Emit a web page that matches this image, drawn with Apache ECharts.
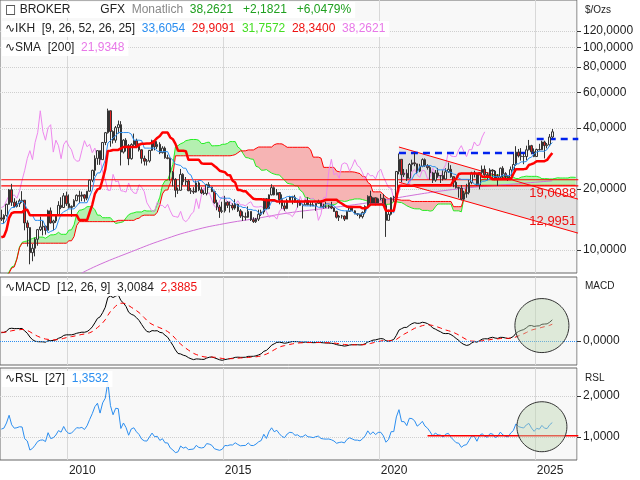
<!DOCTYPE html>
<html><head><meta charset="utf-8">
<script src="https://cdn.jsdelivr.net/npm/echarts@6/dist/echarts.min.js"></script>
<style>html,body{margin:0;padding:0;background:#fff}#c{width:640px;height:480px}</style>
</head><body><div id="c"></div>
<script>
// Monthly silver warm-up history Jan 2005 .. Oct 2007 (indicator calculation only, not drawn)
const preCloses = [6.8,7.4,7.1,6.9,7.4,7.0,7.2,6.8,7.5,7.6,8.3,8.8,
9.6,9.6,11.5,13.6,12.2,10.8,11.3,12.7,11.6,12.4,13.9,12.9,
13.3,14.2,13.3,13.5,13.2,12.4,12.9,12.1,13.8,14.4];
const preHighs = [7.3,7.5,7.5,7.4,7.5,7.5,7.3,7.3,7.6,7.8,8.4,9.0,
9.9,10.1,11.6,14.1,15.2,12.6,11.9,13.0,12.6,12.6,14.2,14.1,
13.8,14.6,14.4,14.2,14.1,13.6,13.4,13.0,14.0,14.6];
const preLows = [6.4,6.5,6.9,6.8,6.9,6.9,6.9,6.8,6.8,7.3,7.5,8.2,
8.8,9.2,9.5,11.4,11.3,9.5,10.3,11.2,10.9,11.2,12.3,12.5,
12.3,13.3,12.6,13.3,12.9,12.4,12.5,11.2,12.0,13.5];
// Monthly silver, Nov 2007 .. Jul 2025 (drawn)
const startYear = 2007, startMonth = 11;
const closes = [14.2,14.8,
16.8,19.8,17.2,16.4,16.9,17.5,17.6,13.6,12.9,9.7,10.2,11.3,
12.6,13.0,13.1,12.5,15.6,13.6,13.9,14.9,16.6,16.2,18.5,16.9,
16.2,16.4,17.5,18.6,18.4,18.7,18.0,19.5,22.1,24.7,28.3,30.9,
27.9,33.9,37.9,48.6,38.4,34.8,40.1,41.5,30.4,34.8,32.7,28.2,
33.1,34.6,32.5,31.2,28.3,27.4,27.5,31.0,34.6,32.3,33.2,30.2,
31.8,28.5,28.3,24.2,22.3,19.7,19.7,23.6,21.7,21.9,19.6,19.5,
19.3,21.4,19.8,19.1,19.0,21.0,20.4,19.4,17.1,16.3,15.5,15.6,
17.2,16.6,16.6,16.1,16.8,15.6,14.7,14.6,14.5,15.5,14.1,13.8,
14.2,15.0,15.4,17.9,16.0,18.7,20.3,18.7,19.2,17.7,16.5,16.0,
17.5,18.3,18.2,17.2,17.4,16.6,16.7,17.5,16.7,16.7,16.5,17.0,
17.3,16.4,16.3,16.3,16.4,16.1,15.5,14.5,14.7,14.7,14.2,15.5,
16.1,15.6,15.1,15.0,14.6,15.3,16.4,18.4,17.0,18.1,17.0,17.9,
18.0,16.6,14.0,15.0,18.1,18.2,24.4,28.0,23.5,23.9,22.6,26.4,
26.9,26.6,24.5,25.9,27.9,26.1,25.5,24.0,22.1,24.0,23.2,23.3,
22.4,24.3,25.0,23.0,21.6,20.3,20.2,17.8,19.0,19.2,21.5,24.0,
23.7,20.9,24.1,25.0,23.5,22.8,24.8,24.5,22.4,22.9,25.3,23.8,
23.0,22.7,24.9,26.4,30.4,29.1,28.9,28.9,31.2,32.7,30.5,28.9,
31.3,31.2,34.1,32.7,33.0,36.08,38.26];
const highs = [15.8,15.0,
16.9,20.0,21.2,18.0,17.5,17.9,19.5,17.6,14.0,12.9,10.7,11.5,
12.7,14.6,13.9,13.2,15.8,16.2,14.1,15.0,17.4,18.2,19.1,19.4,
18.8,16.6,17.8,18.8,19.6,19.4,18.8,19.5,22.2,24.9,29.3,31.0,
30.9,34.1,38.2,49.8,48.5,38.9,40.9,43.5,43.2,35.2,35.6,33.3,
33.6,37.5,35.4,33.5,31.4,29.2,28.1,31.1,35.0,34.8,34.4,34.0,
32.5,32.4,29.5,28.6,24.5,22.6,20.3,25.1,23.9,22.9,22.2,20.2,
20.4,22.0,21.8,20.4,19.7,21.2,21.6,20.5,19.6,17.7,16.7,17.3,
18.5,17.4,17.3,17.0,17.8,16.9,15.9,15.5,15.3,16.4,15.5,14.5,
14.4,15.8,15.8,18.0,18.0,18.8,21.1,20.6,20.0,19.3,18.8,17.2,
17.9,18.5,18.5,18.7,17.6,17.7,16.9,17.7,18.2,17.4,17.3,17.0,
17.7,17.4,16.9,17.3,16.7,17.3,16.2,15.6,14.9,14.9,14.8,15.6,
16.2,16.2,15.7,15.2,15.0,15.5,16.6,18.6,19.6,18.2,18.1,18.1,
18.9,18.9,17.9,15.8,18.2,18.5,24.5,29.9,28.0,25.1,25.0,26.8,
27.9,30.1,26.6,26.6,28.3,28.3,26.5,25.9,24.3,24.8,25.4,23.4,
24.7,25.3,27.0,26.2,23.0,22.5,20.5,20.9,19.6,21.2,22.2,24.3,
24.6,23.8,24.2,26.1,26.1,24.1,25.3,25.0,24.8,23.7,25.5,25.9,
24.2,23.4,25.8,29.8,32.5,31.5,31.8,29.9,32.7,34.9,33.0,31.7,
31.6,33.4,34.6,34.6,33.7,37.3,39.5];
const lows = [13.9,13.6,
14.6,16.7,16.5,16.2,16.2,16.3,17.1,12.5,10.4,8.5,8.8,9.3,
10.5,12.4,11.8,11.9,12.5,13.5,12.5,13.6,14.8,15.9,16.1,16.5,
16.0,14.6,16.3,17.4,17.0,17.4,17.3,17.6,19.4,21.6,23.2,26.3,
26.3,27.9,32.9,37.5,32.3,33.5,33.8,37.5,26.1,29.9,30.6,26.2,
27.9,32.6,31.8,30.6,26.7,26.1,26.1,27.0,30.8,31.0,31.5,29.7,
29.9,28.2,28.0,22.0,20.6,18.2,18.9,19.6,20.9,20.8,19.5,18.9,
18.9,19.2,19.5,18.9,18.7,18.6,20.2,19.3,16.9,15.7,14.4,15.2,
15.3,16.1,15.3,15.7,15.8,15.4,14.4,13.9,14.0,14.4,13.9,13.6,
13.6,13.9,14.7,15.0,15.9,15.9,18.6,18.6,18.6,16.8,16.0,15.6,
15.9,17.4,16.8,17.1,16.2,16.5,14.3,16.6,16.6,16.4,16.5,15.6,
16.9,16.2,16.0,16.1,16.0,15.9,15.4,14.3,13.9,14.3,13.9,14.2,
15.4,15.6,15.0,14.7,14.3,14.3,15.0,16.2,16.9,17.1,16.6,16.8,
17.6,16.4,11.6,14.0,14.8,17.3,17.8,23.6,21.6,22.9,21.9,22.6,
24.4,25.9,23.8,24.2,25.6,25.7,24.9,22.2,21.4,21.7,22.7,21.4,
22.0,22.3,24.0,22.7,20.4,20.1,18.1,17.6,17.6,18.1,18.8,21.1,
22.8,20.8,19.9,23.6,22.8,22.1,22.5,22.2,22.1,20.7,22.6,22.5,
22.3,21.9,22.5,24.7,26.0,28.6,27.6,26.5,27.7,31.0,29.7,28.7,
28.8,31.0,31.1,28.3,31.7,32.5,35.6];
const futureMonths = 9;
// SMA [200] readings (year fraction, value)
const smaYears = [2010.4,2011,2012,2013,2014,2015,2016,2017,2018,2019,2020,2021,2022,2023,2024,2025.5];
const smaVals  = [7.7,8.5,9.8,11.2,12.5,13.5,14.3,15.2,15.9,16.6,17.5,18.6,19.6,20.4,21.0,21.93];
// drawn levels / trend lines
const hLevels = [22.2, 20.7];
const trendUpper = [[2020.6,32.2],[2026.3,17.8]];
const trendLower = [[2020.6,21.6],[2026.3,12.1]];
const blueLevels = [[2020.6,2024.95,30.1],[2025.0,2026.3,35.3]];
const rslLevel = [2021.5,2026.3,1.03];
const yTicks = [10,20,40,60,80,100,120];
const rslTicks = [1,2];

const P = preCloses.length;
const allC = preCloses.concat(closes), allH = preHighs.concat(highs), allL = preLows.concat(lows);
const n = closes.length, N = n + futureMonths;
const cats = [];
for (let i=0;i<N;i++){const m=(startMonth-1+i)%12+1,y=startYear+Math.floor((startMonth-1+i)/12);cats.push(y+'-'+(m<10?'0':'')+m);}
const idxOf = t => (t - (startYear + (startMonth-1)/12))*12;
const L = v => Math.log10(v);
const opens = closes.map((c,i)=> i===0?preCloses[P-1]:closes[i-1]);
const candle = closes.map((c,i)=>[L(opens[i]),L(c),L(lows[i]),L(highs[i])]);
function hl(i,p){let h=-1e9,l=1e9;for(let k=Math.max(0,i-p+1);k<=i;k++){h=Math.max(h,allH[k]);l=Math.min(l,allL[k]);}return (h+l)/2;}
const tenkan=[],kijun=[],spanA=new Array(N).fill(null),spanB=new Array(N).fill(null),chikou=new Array(N).fill(null);
for(let j=0;j<n;j++){tenkan.push(L(hl(j+P,9)));kijun.push(L(hl(j+P,26)));}
for(let j=0;j<N;j++){const f=j+P-26; if(f>=0&&f<allC.length){spanA[j]=L((hl(f,9)+hl(f,26))/2);spanB[j]=L(hl(f,52));}}
for(let j=26;j<n;j++) chikou[j-26]=L(closes[j]);
const cBase=[],cG=[],cR=[];
for(let i=0;i<N;i++){const a=spanA[i],b=spanB[i];if(a==null){cBase.push(null);cG.push(null);cR.push(null);continue;}
cBase.push(Math.min(a,b));cG.push(a>=b?a-b:0);cR.push(b>a?b-a:0);}
const sma=new Array(N).fill(null);smaYears.forEach((t,k)=>{sma[Math.round(idxOf(t))]=L(smaVals[k]);});
function ema(arr,p){const k=2/(p+1);let e=arr[0];return arr.map(v=>(e=v*k+e*(1-k)));}
const e12=ema(allC,12),e26=ema(allC,26);const macdAll=e12.map((v,i)=>v-e26[i]);const sigAll=ema(macdAll,9);
const macd=macdAll.slice(P),sig=sigAll.slice(P);
const rsl=closes.map((c,j)=>{const i=j+P;let s=0,m=0;for(let k=Math.max(0,i-26);k<=i;k++){s+=allC[k];m++;}return c/s*m;});
const fmt=v=>v.toFixed(4).replace('.',',');
const showLab=(i,v)=>{const [y,m]=v.split('-');return m==='01'&&(+y)%5===0;};
const xBase=gi=>({type:'category',gridIndex:gi,data:cats,boundaryGap:true,axisLine:{show:false},axisTick:{show:false},
 axisLabel:{show:gi===2,interval:showLab,formatter:v=>v.slice(0,4),align:'left',color:'#222',fontSize:12,fontFamily:'Liberation Sans',margin:5},
 splitLine:{show:true,interval:showLab,lineStyle:{color:'#d8d8d8'}}});
const lbl={color:'#222',fontSize:12,fontFamily:'Liberation Sans',margin:6};
const seg=pts=>pts.map(p=>[idxOf(p[0]),L(p[1])]);
const series=[
 {type:'line',data:cBase,stack:'c',symbol:'none',lineStyle:{width:0},silent:true},
 {type:'line',data:cG,stack:'c',symbol:'none',lineStyle:{width:0},areaStyle:{color:'#b4f0b0',opacity:1}},
 {type:'line',data:cR,stack:'c',symbol:'none',lineStyle:{width:0},areaStyle:{color:'#f6b4b4',opacity:1}},
 {type:'custom',renderItem:(p,api)=>{const pts=[trendUpper[0],trendUpper[1],trendLower[1],trendLower[0]].map(q=>api.coord([idxOf(q[0]),L(q[1])]));
   return {type:'polygon',shape:{points:pts},style:{fill:'rgba(200,200,200,0.45)'}};},data:[[0,0]],z:1},
 {type:'line',data:spanA,symbol:'none',lineStyle:{color:'#22ee22',width:1}},
 {type:'line',data:spanB,symbol:'none',lineStyle:{color:'#ff0000',width:1}},
 {type:'line',data:sma,connectNulls:true,symbol:'none',smooth:true,lineStyle:{color:'#d070d8',width:1}},
 {type:'line',data:chikou,symbol:'none',lineStyle:{color:'#ee88ee',width:1}},
 ...hLevels.map(v=>({type:'line',data:[[-0.5,L(v)],[N-0.5,L(v)]],symbol:'none',lineStyle:{color:'#ff0000',width:1.2}})),
 {type:'line',data:seg(trendUpper),symbol:'none',lineStyle:{color:'#ff0000',width:1}},
 {type:'line',data:seg(trendLower),symbol:'none',lineStyle:{color:'#ff0000',width:1}},
 ...blueLevels.map(b=>({type:'line',data:[[idxOf(b[0]),L(b[2])],[idxOf(b[1]),L(b[2])]],symbol:'none',lineStyle:{color:'#0022ee',width:2.5,type:[7,5]}})),
 {type:'candlestick',data:candle,barWidth:2,z:5,itemStyle:{color:'#f4f4f4',color0:'#e02020',borderColor:'#333',borderColor0:'#333',borderWidth:1}},
 {type:'line',data:tenkan,symbol:'none',z:6,lineStyle:{color:'#2b8ef0',width:1}},
 {type:'line',data:kijun,symbol:'none',z:6,lineStyle:{color:'#ff0000',width:2.5}},
 {type:'line',xAxisIndex:1,yAxisIndex:1,data:macd,symbol:'none',lineStyle:{color:'#000',width:1},
   markLine:{silent:true,symbol:'none',label:{show:false},data:[{yAxis:0}],lineStyle:{color:'#2b8ef0',type:'dotted',width:1}}},
 {type:'line',xAxisIndex:1,yAxisIndex:1,data:sig,symbol:'none',lineStyle:{color:'#ff0000',width:1,type:[5,4]}},
 {type:'line',xAxisIndex:2,yAxisIndex:2,data:rsl,symbol:'none',lineStyle:{color:'#2b8ef0',width:1}},
 {type:'line',xAxisIndex:2,yAxisIndex:2,data:[[idxOf(rslLevel[0]),rslLevel[2]],[idxOf(rslLevel[1]),rslLevel[2]]],symbol:'none',lineStyle:{color:'#ff0000',width:1.5}}
];
const chart=echarts.init(document.getElementById('c'));
const gridStyle={left:0,right:63,show:true,backgroundColor:'#f8f8f8',borderColor:'#666',borderWidth:1};
chart.setOption({animation:false,
 grid:[{...gridStyle,top:0,height:273},{...gridStyle,top:277,height:88},{...gridStyle,top:368,height:92}],
 xAxis:[xBase(0),xBase(1),xBase(2)],
 yAxis:[
  {type:'value',gridIndex:0,position:'right',min:L(7.7),max:L(171),axisLine:{show:false},
   axisTick:{show:true,customValues:yTicks.map(L),length:4,lineStyle:{color:'#333'}},
   axisLabel:{...lbl,customValues:yTicks.map(L),formatter:v=>fmt(Math.round(Math.pow(10,v)))},
   splitLine:{show:true,lineStyle:{color:'#cfcfcf',type:'dotted'}}},
  {type:'value',gridIndex:1,position:'right',min:-3.4,max:9.1,axisLine:{show:false},
   axisTick:{show:true,customValues:[0],length:4,lineStyle:{color:'#333'}},
   axisLabel:{...lbl,customValues:[0],formatter:v=>fmt(v)},splitLine:{show:false}},
  {type:'value',gridIndex:2,position:'right',min:0.44,max:2.68,axisLine:{show:false},
   axisTick:{show:true,customValues:rslTicks,length:4,lineStyle:{color:'#333'}},
   axisLabel:{...lbl,customValues:rslTicks,formatter:v=>fmt(v)},
   splitLine:{show:true,lineStyle:{color:'#cfcfcf',type:'dotted'}}}
 ],
 series});
const F='Liberation Sans';
function txt(x,y,rich,parts){return {type:'text',x,y,z:100,style:{text:parts.map(p=>'{'+p[0]+'|'+p[1]+'}').join(''),rich,font:'12px '+F,backgroundColor:'rgba(255,255,255,0.92)',padding:[2,4,2,3]}};}
const mk=c=>({fill:c,font:'12px '+F});
const rich={k:mk('#222'),g:mk('#888'),gr:mk('#1fa01f'),b:mk('#2b8ef0'),r:mk('#ee1111'),l:mk('#44dd22'),p:mk('#e878e8'),ic:{fill:'#222',font:'12px "DejaVu Sans"'}};
const px=(t,v,gi)=>chart.convertToPixel({xAxisIndex:gi,yAxisIndex:gi},[idxOf(t),v]);
const c1=px(2025.2,2.2,1),c2=px(2025.2,1.25,2);
const endU=px(2026.3,L(17.8),0),endL=px(2026.3,L(12.1),0);
chart.setOption({graphic:[
 txt(2,2,rich,[['ic','□'],['k',' BROKER         GFX  '],['g','Monatlich  '],['gr','38,2621   +2,1821   +6,0479%']]),
 txt(2,21,rich,[['ic','∿'],['k','IKH  [9, 26, 52, 26, 25]  '],['b','33,6054  '],['r','29,9091  '],['l','31,7572  '],['r','28,3400  '],['p','38,2621']]),
 txt(2,40,rich,[['ic','∿'],['k','SMA  [200]  '],['p','21,9348']]),
 txt(2,280,rich,[['ic','∿'],['k','MACD  [12, 26, 9]  3,0084  '],['r','2,3885']]),
 txt(2,371,rich,[['ic','∿'],['k','RSL  [27]  '],['b','1,3532']]),
 {type:'text',x:585,y:5,style:{text:'$/Ozs',font:'10px '+F,fill:'#222'}},
 {type:'text',x:585,y:281,style:{text:'MACD',font:'10px '+F,fill:'#222'}},
 {type:'text',x:585,y:373,style:{text:'RSL',font:'10px '+F,fill:'#222'}},
 {type:'text',x:endU[0]-2,y:endU[1]-12,z:50,style:{text:'19,0088',font:'13px '+F,fill:'#ee1111',align:'right'}},
 {type:'text',x:endL[0]-2,y:endL[1]-18,z:50,style:{text:'12,9951',font:'13px '+F,fill:'#ee1111',align:'right'}},
 {type:'ellipse',z:50,shape:{cx:c1[0],cy:c1[1],rx:27,ry:27},style:{fill:'rgba(190,215,180,0.45)',stroke:'#333',lineWidth:1}},
 {type:'ellipse',z:50,shape:{cx:c2[0],cy:c2[1],rx:25,ry:25},style:{fill:'rgba(190,215,180,0.45)',stroke:'#333',lineWidth:1}}
]});
</script></body></html>
